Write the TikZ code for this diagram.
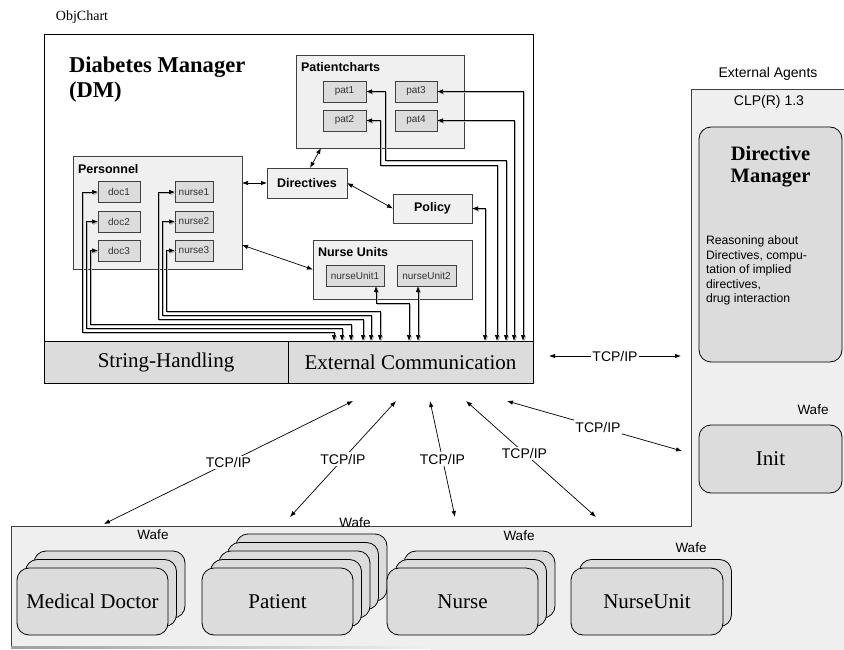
\documentclass[tikz,border=0pt]{standalone}
\usepackage{fontspec}
\setmainfont{Liberation Serif}
\setsansfont{Liberation Sans}
\usetikzlibrary{arrows.meta}

\definecolor{panelgray}{HTML}{EFEFEF}
\definecolor{boxgray}{HTML}{DCDCDC}
\definecolor{framegray}{HTML}{F0F0F0}
\definecolor{edgegray}{HTML}{404040}
\newcommand{\sz}[2]{\fontsize{#1pt}{#2pt}\selectfont}

\tikzset{
  every node/.style={inner sep=0pt, outer sep=0pt},
  container/.style={draw=edgegray, fill=framegray, line width=0.8pt},
  ctitle/.style={font=\sffamily\bfseries\sz{12.5}{15}, anchor=north west},
  cell/.style={draw=edgegray, fill=boxgray, line width=0.7pt,
    font=\sffamily\sz{10}{12}, text=black!80},
  plainbox/.style={container, font=\sffamily\bfseries\sz{12.5}{15}},
  bar/.style={draw=black, fill=boxgray, line width=0.8pt, font=\sz{21}{25}},
  agent/.style={draw=black, fill=boxgray, line width=0.8pt, rounded corners=12pt},
  agenttext/.style={font=\sz{21}{25}},
  link/.style={line width=0.7pt, >={Latex[length=6pt,width=4.5pt]}, <->},
  wire/.style={link, preaction={draw=gray!55, line width=0.7pt,
    transform canvas={xshift=1.2pt,yshift=-1.2pt}}},
  netlabel/.style={font=\sffamily\sz{14}{16}, fill=white, inner sep=1.5pt},
  tag/.style={font=\sffamily\sz{13.5}{16}},
}

\begin{document}
\begin{tikzpicture}[x=1pt, y=-1pt]
\useasboundingbox (0,0) rectangle (844,650);

% ---------- grey area of the external agents ----------
\fill[panelgray] (11,526) -- (691,526) -- (691,89) -- (844,89) -- (844,650)
  -- (430,650) -- (430,648) -- (11,648) -- cycle;
\draw[edgegray, line width=0.8pt] (11,647) -- (11,526) -- (691,526) -- (691,89) -- (844,89);
\shade[left color=gray!75, right color=panelgray] (11,646.2) rectangle (430,648.2);

\node[font=\sz{14}{16}] (objchart) at (82,17) {ObjChart};

% ---------- Diabetes Manager ----------
\node[draw=black, fill=white, line width=0.8pt, minimum width=489pt, minimum height=307pt]
  (dm) at (288.5,187.5) {};
\node[font=\bfseries\sz{22.6}{25}, align=left, anchor=north west] (dmtitle) at (69,57)
  {Diabetes Manager\\(DM)};

\node[bar, minimum width=244pt, minimum height=42pt] (strh) at (166,362) {String-Handling};
\node[bar, minimum width=245pt, minimum height=42pt] (extc) at (410.5,362) {External Communication};

% Patientcharts
\node[container, minimum width=168pt, minimum height=93pt] (pc) at (380,101.5) {};
\node[ctitle] (pctitle) at ([xshift=5pt,yshift=-7.5pt]pc.north west) {Patientcharts};
\node[cell, minimum width=43pt, minimum height=21pt] (pat1) at (344.5,91.5) {pat1};
\node[cell, minimum width=43pt, minimum height=21pt] (pat2) at (344.5,120.5) {pat2};
\node[cell, minimum width=42pt, minimum height=21pt] (pat3) at (416,91.5) {pat3};
\node[cell, minimum width=42pt, minimum height=21pt] (pat4) at (416,120.5) {pat4};

% Personnel
\node[container, minimum width=169pt, minimum height=113pt] (pers) at (157.5,212.5) {};
\node[ctitle] (perstitle) at ([xshift=5pt,yshift=-8.5pt]pers.north west) {Personnel};
\node[cell, minimum width=42pt, minimum height=21pt] (doc1) at (119,192) {doc1};
\node[cell, minimum width=42pt, minimum height=21pt] (doc2) at (119,221.5) {doc2};
\node[cell, minimum width=42pt, minimum height=21pt] (doc3) at (119,250.5) {doc3};
\node[cell, minimum width=38pt, minimum height=21pt] (nurse1) at (194,192) {nurse1};
\node[cell, minimum width=38pt, minimum height=21pt] (nurse2) at (194,221.5) {nurse2};
\node[cell, minimum width=38pt, minimum height=21pt] (nurse3) at (194,250.5) {nurse3};

% Directives, Policy
\node[plainbox, minimum width=80pt, minimum height=30pt] (dir) at (307,183) {Directives};
\node[plainbox, minimum width=79pt, minimum height=29pt] (pol) at (432.5,208.5) {Policy};

% Nurse Units
\node[container, minimum width=159pt, minimum height=59pt] (nu) at (392.5,269.5) {};
\node[ctitle] (nutitle) at ([xshift=5pt,yshift=-7.5pt]nu.north west) {Nurse Units};
\node[cell, minimum width=58pt, minimum height=21pt] (nu1) at (355,275.5) {nurseUnit1};
\node[cell, minimum width=59pt, minimum height=21pt] (nu2) at (426.5,275.5) {nurseUnit2};

% links between the parts
\draw[link] ([xshift=-59pt]pc.south) -- ([xshift=3pt]dir.north);
\draw[link] (pers.east |- dir.west) -- (dir.west);
\draw[link] (dir.east) -- (pol.west);
\draw[link] ([yshift=-32.5pt]pers.east) -- (nu.west);

% wires down to External Communication
\draw[wire] (doc1.west) -| (82,332) -| ([xshift=46pt]extc.north west);
\draw[wire] (doc2.west) -| (86,328) -| ([xshift=54pt]extc.north west);
\draw[wire] (doc3.west) -| (90,324) -| ([xshift=63pt]extc.north west);
\draw[wire] (nurse1.west) -| (158,319) -| ([xshift=75pt]extc.north west);
\draw[wire] (nurse2.west) -| (162,315) -| ([xshift=83pt]extc.north west);
\draw[wire] (nurse3.west) -| (166,311) -| ([xshift=92pt]extc.north west);
\draw[wire] ([xshift=21pt]nu1.south) -- (376,303) -| ([xshift=121pt]extc.north west);
\draw[wire] ([xshift=-8.5pt]nu2.south) -- ([xshift=130pt]extc.north west);
\draw[wire] (pol.east) -| ([xshift=197pt]extc.north west);
\draw[wire] (pat2.east) -| (380,165) -| ([xshift=209pt]extc.north west);
\draw[wire] (pat1.east) -| (385,160) -| ([xshift=218pt]extc.north west);
\draw[wire] (pat4.east) -| ([xshift=226pt]extc.north west);
\draw[wire] (pat3.east) -| ([xshift=235pt]extc.north west);

% ---------- external agents ----------
\node[tag, font=\sffamily\sz{14}{16}] (ealabel) at (768,74) {External Agents};
\node[tag, font=\sffamily\sz{14}{16}] (clp) at (769,102) {CLP(R) 1.3};
\node[agent, minimum width=143pt, minimum height=235pt] (dmgr) at (770.5,244.5) {};
\node[font=\bfseries\sz{20.5}{22}, align=center, anchor=north] (dmgrtitle)
  at ([yshift=-19pt]dmgr.north) {Directive\\Manager};
\node[font=\sffamily\sz{12.2}{14.5}, align=left, anchor=north west] (dmgrtext) at (706,236)
  {Reasoning about\\Directives, compu-\\tation of implied\\directives,\\drug interaction};

\node[tag] (wafeinit) at (813,410) {Wafe};
\node[agent, agenttext, minimum width=143pt, minimum height=68pt] (init) at (770.5,459) {Init};

\draw[link] ([xshift=16pt,yshift=6pt]extc.east) -- node[netlabel] {TCP/IP} ++(132,0);

% stacked Wafe clients
\foreach \k in {2,1}
  \draw[agent, shift={(8.5*\k,-8.5*\k)}] (17,568) rectangle (168,635);
\node[agent, agenttext, minimum width=151pt, minimum height=67pt] (md) at (92.5,601.5) {Medical Doctor};
\node[tag] (wafemd) at (153,535) {Wafe};

\foreach \k in {4,3,2,1}
  \draw[agent, shift={(8.5*\k,-8.5*\k)}] (202,568) rectangle (353,635);
\node[agent, agenttext, minimum width=151pt, minimum height=67pt] (pt) at (277.5,601.5) {Patient};
\node[tag] (wafept) at (355,523) {Wafe};

\foreach \k in {2,1}
  \draw[agent, shift={(8.5*\k,-8.5*\k)}] (387,568) rectangle (538,635);
\node[agent, agenttext, minimum width=151pt, minimum height=67pt] (ns) at (462.5,601.5) {Nurse};
\node[tag] (wafens) at (519,536) {Wafe};

\draw[agent, shift={(8.5,-8.5)}] (571,568) rectangle (723,635);
\node[agent, agenttext, minimum width=152pt, minimum height=67pt] (nun) at (647,601.5) {NurseUnit};
\node[tag] (wafenun) at (691,548) {Wafe};

% TCP/IP connections to the clients
\coordinate (a1) at (353,401); \coordinate (b1) at (104,524);
\coordinate (a2) at (396,401); \coordinate (b2) at (290,517);
\coordinate (a3) at (430,401); \coordinate (b3) at (455,517);
\coordinate (a4) at (466,401); \coordinate (b4) at (596,517);
\coordinate (a5) at (507,401); \coordinate (b5) at (682,451);
\draw[link] (a1) -- node[netlabel] {TCP/IP} (b1);
\draw[link] (a2) -- node[netlabel] {TCP/IP} (b2);
\draw[link] (a3) -- node[netlabel] {TCP/IP} (b3);
\draw[link] (a4) -- node[netlabel, pos=0.45] {TCP/IP} (b4);
\draw[link] (a5) -- node[netlabel, pos=0.52] {TCP/IP} (b5);
\end{tikzpicture}
\end{document}
